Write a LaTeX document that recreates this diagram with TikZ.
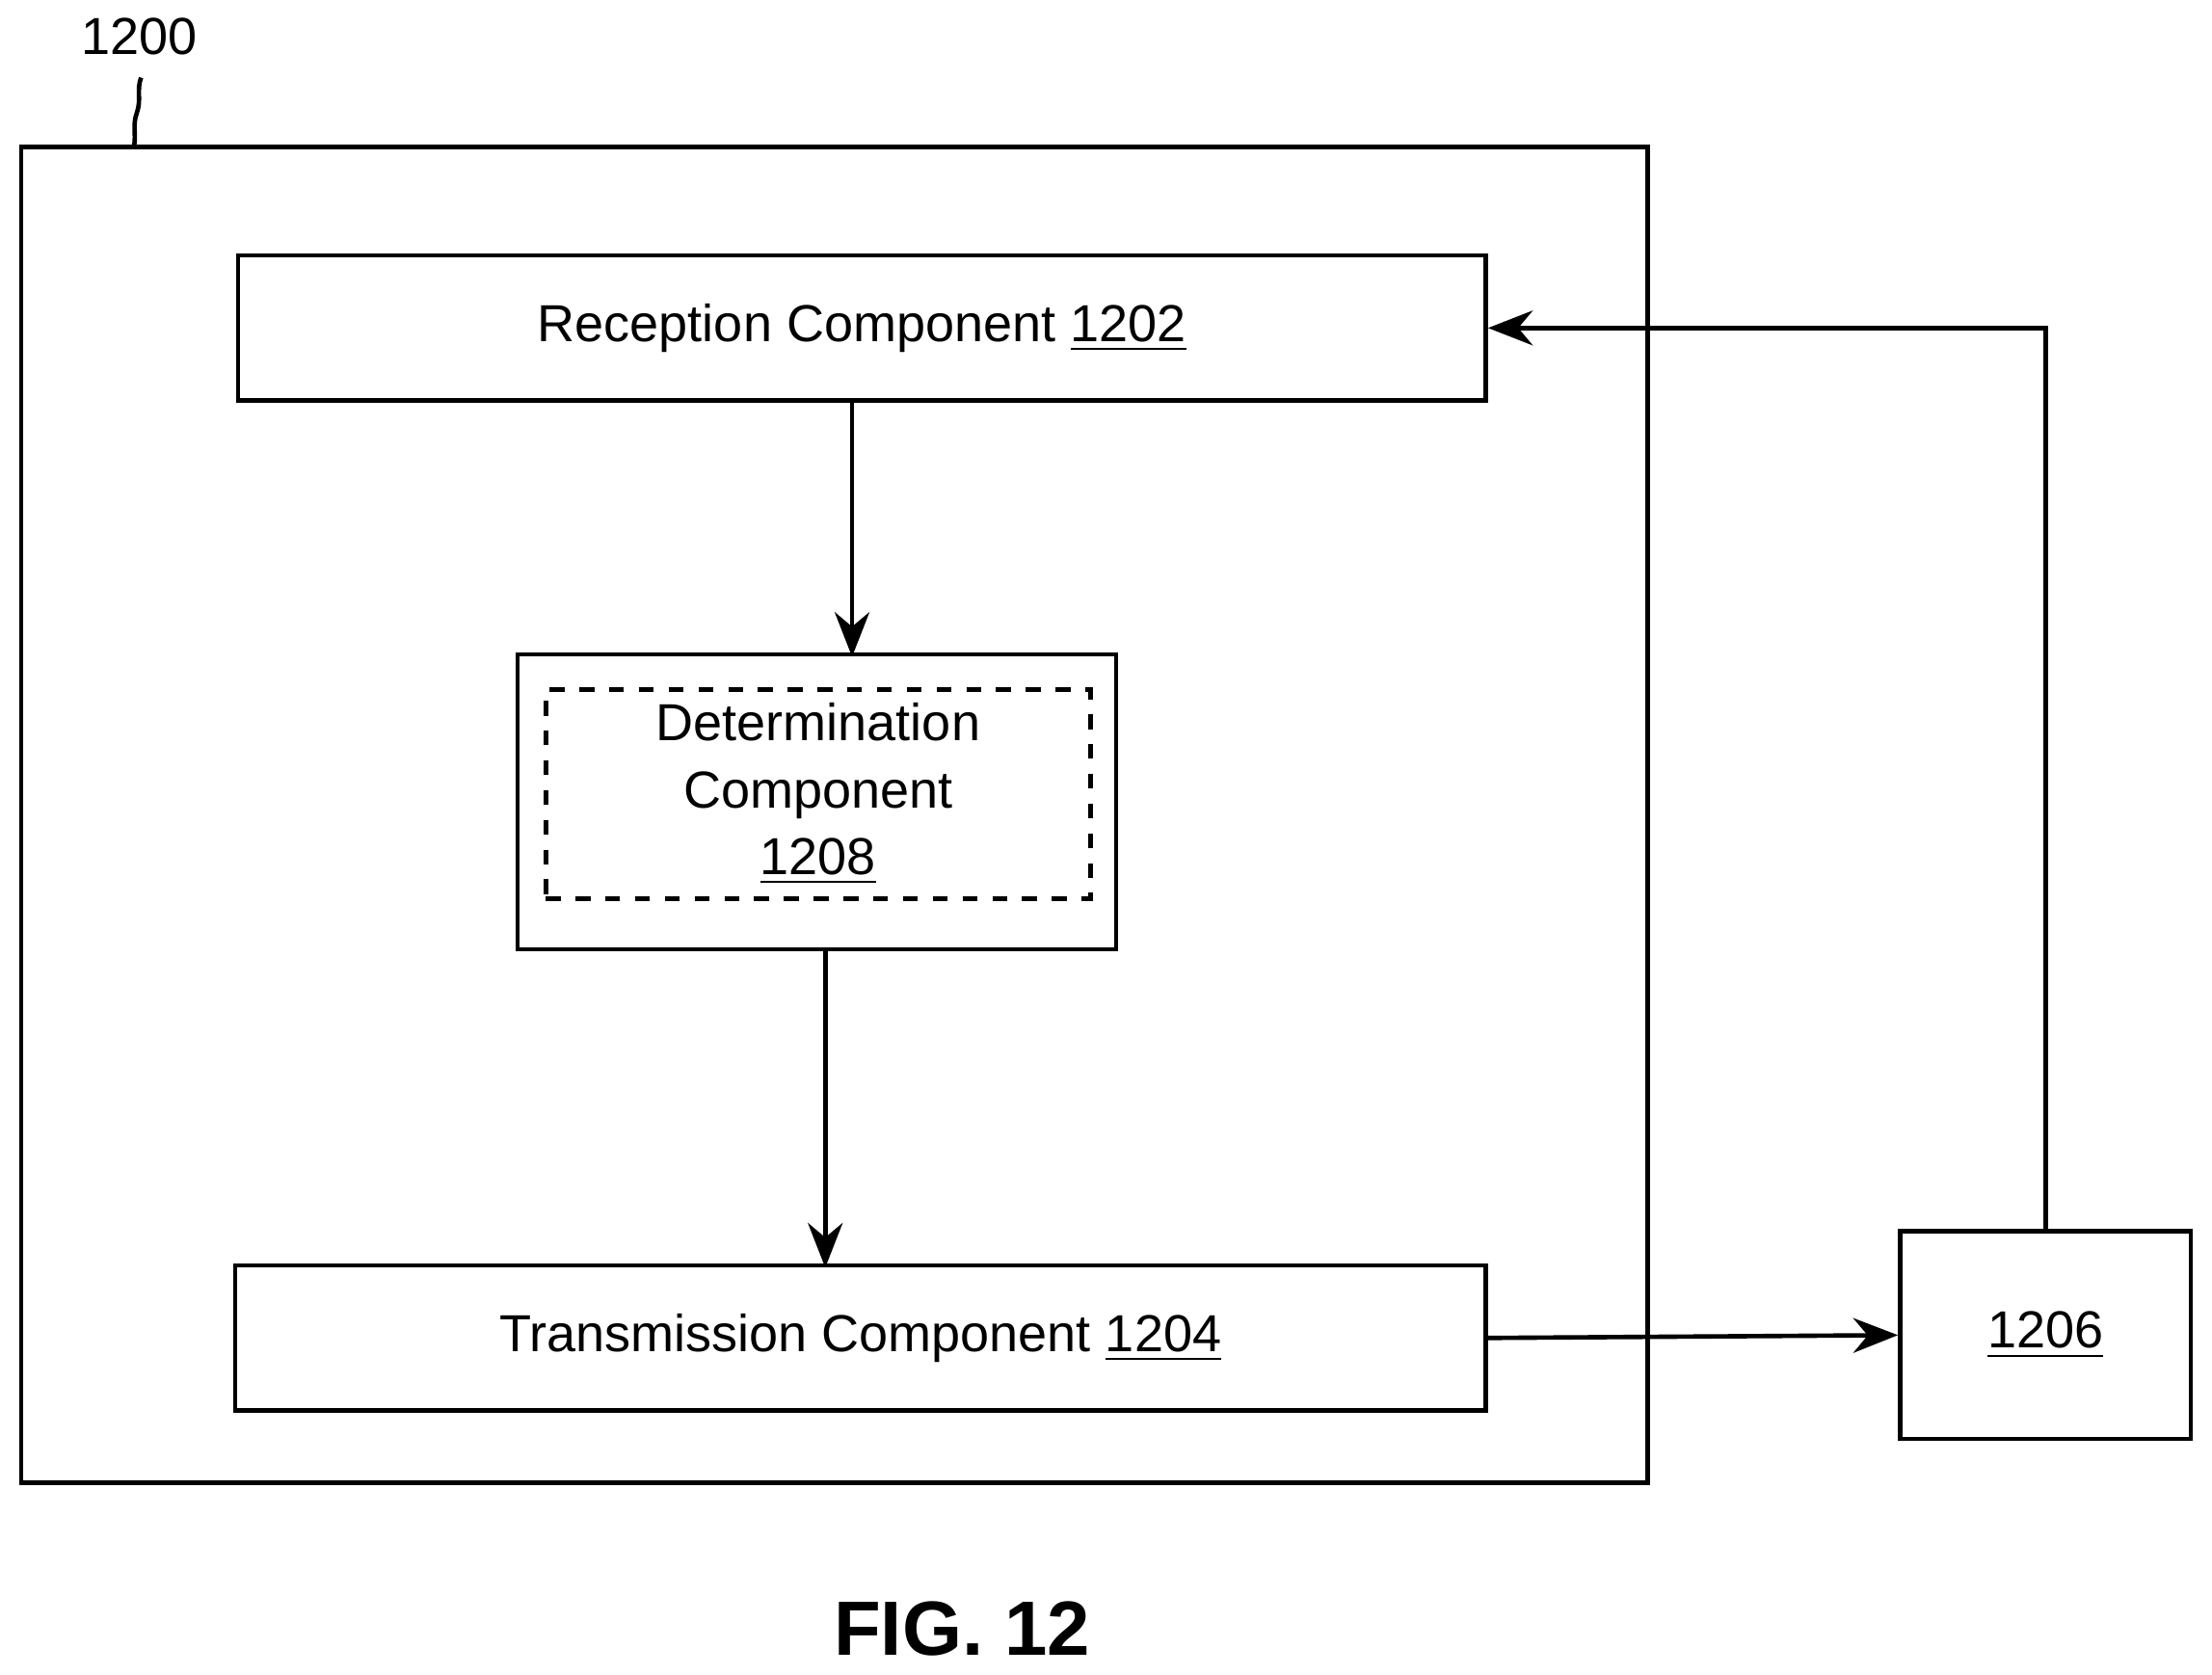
\documentclass[tikz,border=0pt]{standalone}
\usepackage{fontspec}
\setmainfont{Liberation Sans}
\usetikzlibrary{arrows.meta,positioning}

\tikzset{
  box/.style={draw, line width=0.9pt, inner sep=0pt, font=\fontsize{10.5}{12.5}\selectfont, align=center},
  conn/.style={line width=0.9pt, -{Stealth[length=9pt,width=7pt]}}
}

\begin{document}
\begin{tikzpicture}[x=0.01cm, y=-0.01cm]
        \useasboundingbox (0, 0) rectangle (1568, 1187);

        \draw[line width=0.9pt] (15, 104) rectangle (1168, 1051);
        \node[font=\fontsize{10.5}{12.5}\selectfont] (lab) at (99, 26) {1200};
        \draw[line width=0.9pt] (100, 55) to[out=-110, in=70] (97, 80) to[out=-110, in=80] (95, 104);

        \node[box, minimum width=8.84cm, minimum height=1.03cm] (rec) at (611, 232.5) {Reception Component \underline{1202}};
        \node[box, minimum width=4.24cm, minimum height=2.09cm] (det) at (579, 568.5) {};
        \node[draw, dashed, line width=0.9pt, minimum width=3.86cm, minimum height=1.48cm, inner sep=0pt,
              font=\fontsize{10.5}{13.5}\selectfont, align=center] (detin) at (580, 563) {Determination\\Component\\\underline{1208}};
        \node[box, minimum width=8.86cm, minimum height=1.03cm] (tra) at (610, 948.5) {Transmission Component \underline{1204}};
        \node[box, minimum width=2.06cm, minimum height=1.47cm] (ext) at (1450, 946.5) {\underline{1206}};

        \draw[conn] (rec.south -| det.north) ++(25, 0) -- ++(0, 180);
        \draw[conn] (det.south) ++(6, 0) -- ++(0, 224);
        \draw[conn] (tra.east) -- (ext.west);
        \draw[conn] (ext.north) -- (ext.north |- rec.east) -- (rec.east);

        \node[font=\bfseries\fontsize{15.5}{18}\selectfont] (fig) at (682, 1155) {FIG. 12};
    \end{tikzpicture}
\end{document}
